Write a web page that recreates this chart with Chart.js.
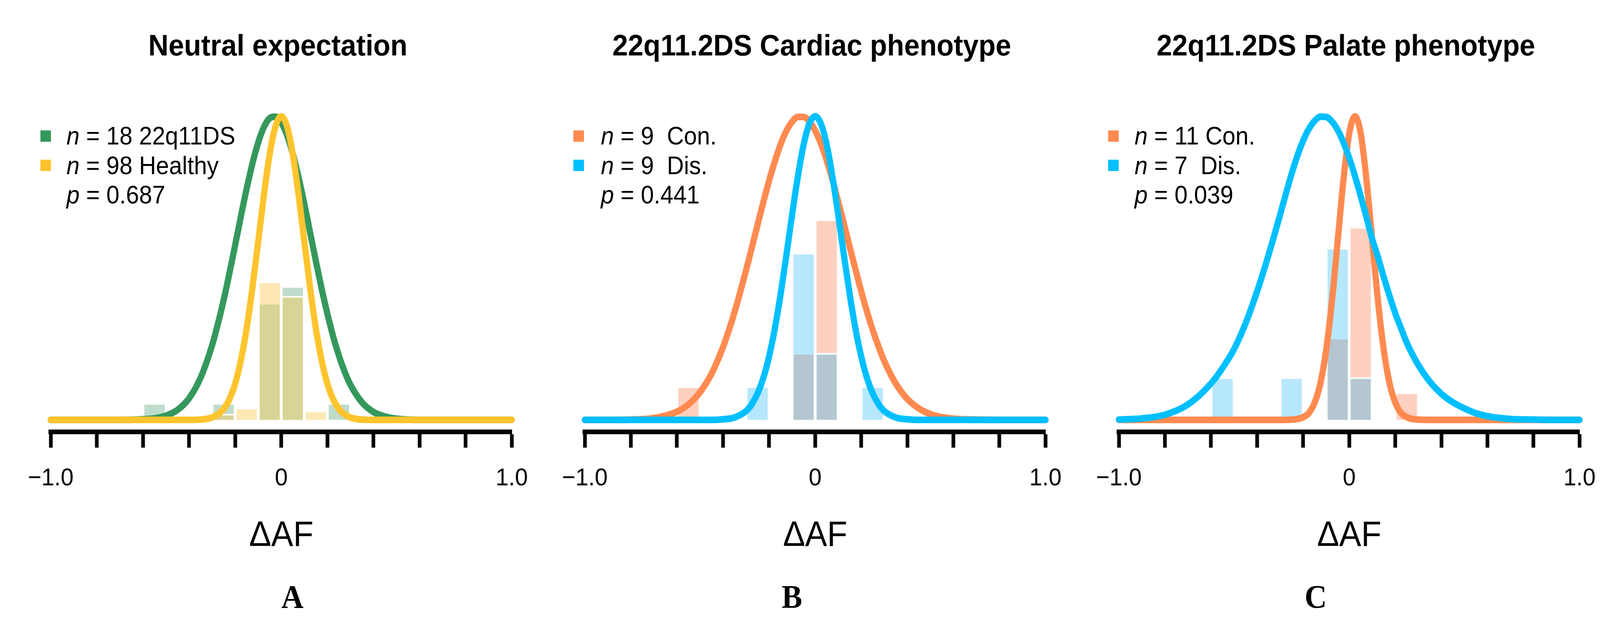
<!DOCTYPE html>
<html>
<head>
<meta charset="utf-8">
<script src="https://cdn.jsdelivr.net/npm/chart.js@4.4.1/dist/chart.umd.min.js"></script>
<style>
  html, body { margin: 0; background: #fff; overflow: hidden; }
  #page { position: absolute; left: 0; top: 0; width: 4356px; height: 1598px; transform-origin: 0 0;
          font-family: 'Liberation Sans', Arial, sans-serif; color: #000; }
  canvas { position: absolute; top: 0; }
  .sq { position: absolute; width: 29px; height: 29px; }
  .leg { position: absolute; font-size: 64px; line-height: 1; white-space: pre; transform: translateY(-50%); }
  .letter { position: absolute; top: 1529px; font-family: 'Liberation Serif', 'Times New Roman', serif;
            font-weight: bold; font-size: 84px; line-height: 1; transform: translate(-50%, -50%); }
</style>
</head>
<body>
<div id="page">
<canvas id="chartA" width="1443" height="1427" style="left:35px"></canvas>
<canvas id="chartB" width="1442" height="1427" style="left:1489px"></canvas>
<canvas id="chartC" width="1442" height="1427" style="left:2943px"></canvas>

<div class="sq" style="left:110px;top:334px;background:#34985c"></div>
<div class="sq" style="left:110px;top:409px;background:#fec42e"></div>
<div class="leg" style="left:181px;top:348px"><i>n</i> = 18 22q11DS</div>
<div class="leg" style="left:181px;top:424px"><i>n</i> = 98 Healthy</div>
<div class="leg" style="left:181px;top:499px"><i>p</i> = 0.687</div>

<div class="sq" style="left:1561px;top:334px;background:#ff8a50"></div>
<div class="sq" style="left:1561px;top:409px;background:#00bfff"></div>
<div class="leg" style="left:1636px;top:348px"><i>n</i> = 9  Con.</div>
<div class="leg" style="left:1636px;top:424px"><i>n</i> = 9  Dis.</div>
<div class="leg" style="left:1636px;top:499px"><i>p</i> = 0.441</div>

<div class="sq" style="left:3017px;top:334px;background:#ff8a50"></div>
<div class="sq" style="left:3017px;top:409px;background:#00bfff"></div>
<div class="leg" style="left:3089px;top:348px"><i>n</i> = 11 Con.</div>
<div class="leg" style="left:3089px;top:424px"><i>n</i> = 7  Dis.</div>
<div class="leg" style="left:3089px;top:499px"><i>p</i> = 0.039</div>

<div class="letter" style="left:796px">A</div>
<div class="letter" style="left:2156px">B</div>
<div class="letter" style="left:3582px">C</div>
</div>

<script>
// eje x comun para las curvas
const xGrid = [-1, -0.9, -0.8, -0.7, -0.6, -0.55, -0.5, -0.45, -0.4, -0.35, -0.3,
  -0.275, -0.25, -0.225, -0.2, -0.175, -0.15, -0.125, -0.1, -0.075, -0.05, -0.025, 0,
  0.025, 0.05, 0.075, 0.1, 0.125, 0.15, 0.175, 0.2, 0.225, 0.25, 0.275, 0.3,
  0.35, 0.4, 0.45, 0.5, 0.55, 0.6, 0.7, 0.8, 0.9, 1];

// Panel A: neutral expectation
const curveA22q = [0, 0, 0, 0, 0.002, 0.005, 0.014, 0.033, 0.071, 0.139, 0.246,
  0.316, 0.395, 0.483, 0.576, 0.671, 0.762, 0.845, 0.914, 0.965, 0.994, 0.999, 0.980,
  0.938, 0.877, 0.800, 0.712, 0.618, 0.524, 0.433, 0.350, 0.275, 0.212, 0.159, 0.116,
  0.058, 0.026, 0.011, 0.004, 0.001, 0, 0, 0, 0, 0];
const curveAHealthy = [0, 0, 0, 0, 0, 0, 0, 0, 0, 0.001, 0.008,
  0.018, 0.036, 0.068, 0.119, 0.197, 0.302, 0.436, 0.588, 0.742, 0.876, 0.967, 1,
  0.967, 0.876, 0.742, 0.588, 0.436, 0.302, 0.197, 0.119, 0.068, 0.036, 0.018, 0.008,
  0.001, 0, 0, 0, 0, 0, 0, 0, 0, 0];
const barsA22qX = [-0.55, -0.25, -0.05, 0.05, 0.25];
const barsA22qY = [0.055, 0.055, 0.385, 0.44, 0.055];
const barsAHealthyX = [-0.25, -0.15, -0.05, 0.05, 0.15];
const barsAHealthyY = [0.02, 0.04, 0.455, 0.408, 0.03];

// Panel B: cardiac phenotype
const curveBCon = [0, 0, 0.001, 0.006, 0.027, 0.051, 0.091, 0.152, 0.240, 0.355, 0.493,
  0.567, 0.643, 0.717, 0.788, 0.852, 0.908, 0.952, 0.982, 0.998, 0.998, 0.983, 0.953,
  0.910, 0.855, 0.791, 0.720, 0.646, 0.570, 0.496, 0.424, 0.357, 0.296, 0.242, 0.194,
  0.120, 0.069, 0.038, 0.019, 0.009, 0.004, 0.001, 0, 0, 0];
const curveBDis = [0, 0, 0, 0, 0, 0, 0, 0, 0.002, 0.008, 0.029,
  0.052, 0.087, 0.138, 0.209, 0.301, 0.414, 0.542, 0.676, 0.802, 0.907, 0.976, 1,
  0.976, 0.907, 0.802, 0.676, 0.542, 0.414, 0.301, 0.209, 0.138, 0.087, 0.052, 0.029,
  0.008, 0.002, 0, 0, 0, 0, 0, 0, 0, 0];
const barsBConX = [-0.55, -0.05, 0.05];
const barsBConY = [0.11, 0.22, 0.66];
const barsBDisX = [-0.25, -0.05, 0.05, 0.25];
const barsBDisY = [0.11, 0.55, 0.22, 0.11];

// Panel C: palate phenotype
const curveCCon = [0, 0, 0, 0, 0, 0, 0, 0, 0, 0, 0,
  0, 0.001, 0.003, 0.009, 0.023, 0.057, 0.121, 0.231, 0.391, 0.590, 0.791, 0.943,
  1, 0.943, 0.791, 0.590, 0.391, 0.231, 0.121, 0.057, 0.023, 0.009, 0.003, 0.001,
  0, 0, 0, 0, 0, 0, 0, 0, 0, 0];
const curveCDis = [0.001, 0.005, 0.017, 0.051, 0.120, 0.171, 0.233, 0.318, 0.423, 0.544, 0.676,
  0.745, 0.811, 0.870, 0.920, 0.959, 0.985, 0.999, 0.998, 0.983, 0.955, 0.914, 0.863,
  0.803, 0.737, 0.667, 0.595, 0.536, 0.470, 0.409, 0.351, 0.302, 0.254, 0.215, 0.181,
  0.126, 0.086, 0.058, 0.038, 0.022, 0.012, 0.003, 0.001, 0, 0];
const barsCConX = [-0.05, 0.05, 0.25];
const barsCConY = [0.27, 0.635, 0.09];
const barsCDisX = [-0.55, -0.25, -0.05, 0.05];
const barsCDisY = [0.14, 0.14, 0.566, 0.14];

const panelTitles = ['Neutral expectation', '22q11.2DS Cardiac phenotype', '22q11.2DS Palate phenotype'];
const tickValues = [-1, 0, 1];
const tickLabels = ['\u22121.0', '0', '1.0'];

// ajustar la pagina (4356x1598) a la ventana real
const page = document.getElementById('page');
const sx = window.innerWidth / 4356, sy = window.innerHeight / 1598;
page.style.transform = `scale(${sx}, ${sy})`;

Chart.defaults.font.family = "'Liberation Sans', Arial, sans-serif";
Chart.defaults.color = '#000';

function tickText(v) {
  const i = tickValues.findIndex(t => Math.abs(t - v) < 1e-6);
  return i >= 0 ? tickLabels[i] : '';
}

function lineSet(values, color, order) {
  return {
    type: 'line',
    data: xGrid.map((x, i) => ({ x: x, y: values[i] })),
    borderColor: color,
    borderWidth: 17,
    pointRadius: 0,
    cubicInterpolationMode: 'monotone',
    borderCapStyle: 'round',
    borderJoinStyle: 'round',
    fill: false,
    clip: false,
    order: order
  };
}

function barSet(xs, ys, color, order) {
  return {
    type: 'bar',
    data: xs.map((x, i) => ({ x: x, y: ys[i] })),
    backgroundColor: color,
    borderColor: '#fff',
    borderWidth: 4,
    borderSkipped: 'start',
    grouped: false,
    barPercentage: 1,
    categoryPercentage: 1,
    order: order
  };
}

function makePanel(id, title, datasets) {
  return new Chart(document.getElementById(id), {
    type: 'line',
    data: { datasets: datasets },
    options: {
      responsive: false,
      animation: false,
      layout: { padding: { left: 80, right: 80, top: 0, bottom: 0 } },
      plugins: {
        legend: { display: false },
        tooltip: { enabled: false },
        title: {
          display: true,
          text: title,
          color: '#000',
          font: { size: 76, weight: 'bold' },
          padding: { top: 75, bottom: 54 }
        }
      },
      scales: {
        x: {
          type: 'linear',
          min: -1,
          max: 1,
          offset: false,
          border: { display: true, color: '#000', width: 12 },
          grid: { display: true, drawOnChartArea: false, drawTicks: true, tickLength: 40,
                  tickWidth: 10, tickColor: '#000', offset: false },
          ticks: { stepSize: 0.2, autoSkip: false, maxRotation: 0, padding: 41,
                   color: '#000', font: { size: 63 }, callback: v => tickText(v) },
          title: { display: true, text: '\u0394AF', color: '#000', font: { size: 90 },
                   padding: { top: 15, bottom: 0 } }
        },
        y: { display: false, min: -0.04, max: 1.1 }
      }
    }
  });
}

makePanel('chartA', panelTitles[0], [
  lineSet(curveAHealthy, '#fec42e', 0),
  lineSet(curveA22q, '#34985c', 1),
  barSet(barsAHealthyX, barsAHealthyY, 'rgba(250,202,81,0.43)', 2),
  barSet(barsA22qX, barsA22qY, '#bedccb', 3)
]);

makePanel('chartB', panelTitles[1], [
  lineSet(curveBDis, '#00bfff', 0),
  lineSet(curveBCon, '#ff8a50', 1),
  barSet(barsBDisX, barsBDisY, 'rgba(22,176,246,0.31)', 2),
  barSet(barsBConX, barsBConY, '#fdd0c0', 3)
]);

makePanel('chartC', panelTitles[2], [
  lineSet(curveCDis, '#00bfff', 0),
  lineSet(curveCCon, '#ff8a50', 1),
  barSet(barsCDisX, barsCDisY, 'rgba(22,176,246,0.31)', 2),
  barSet(barsCConX, barsCConY, '#fdd0c0', 3)
]);
</script>
</body>
</html>
